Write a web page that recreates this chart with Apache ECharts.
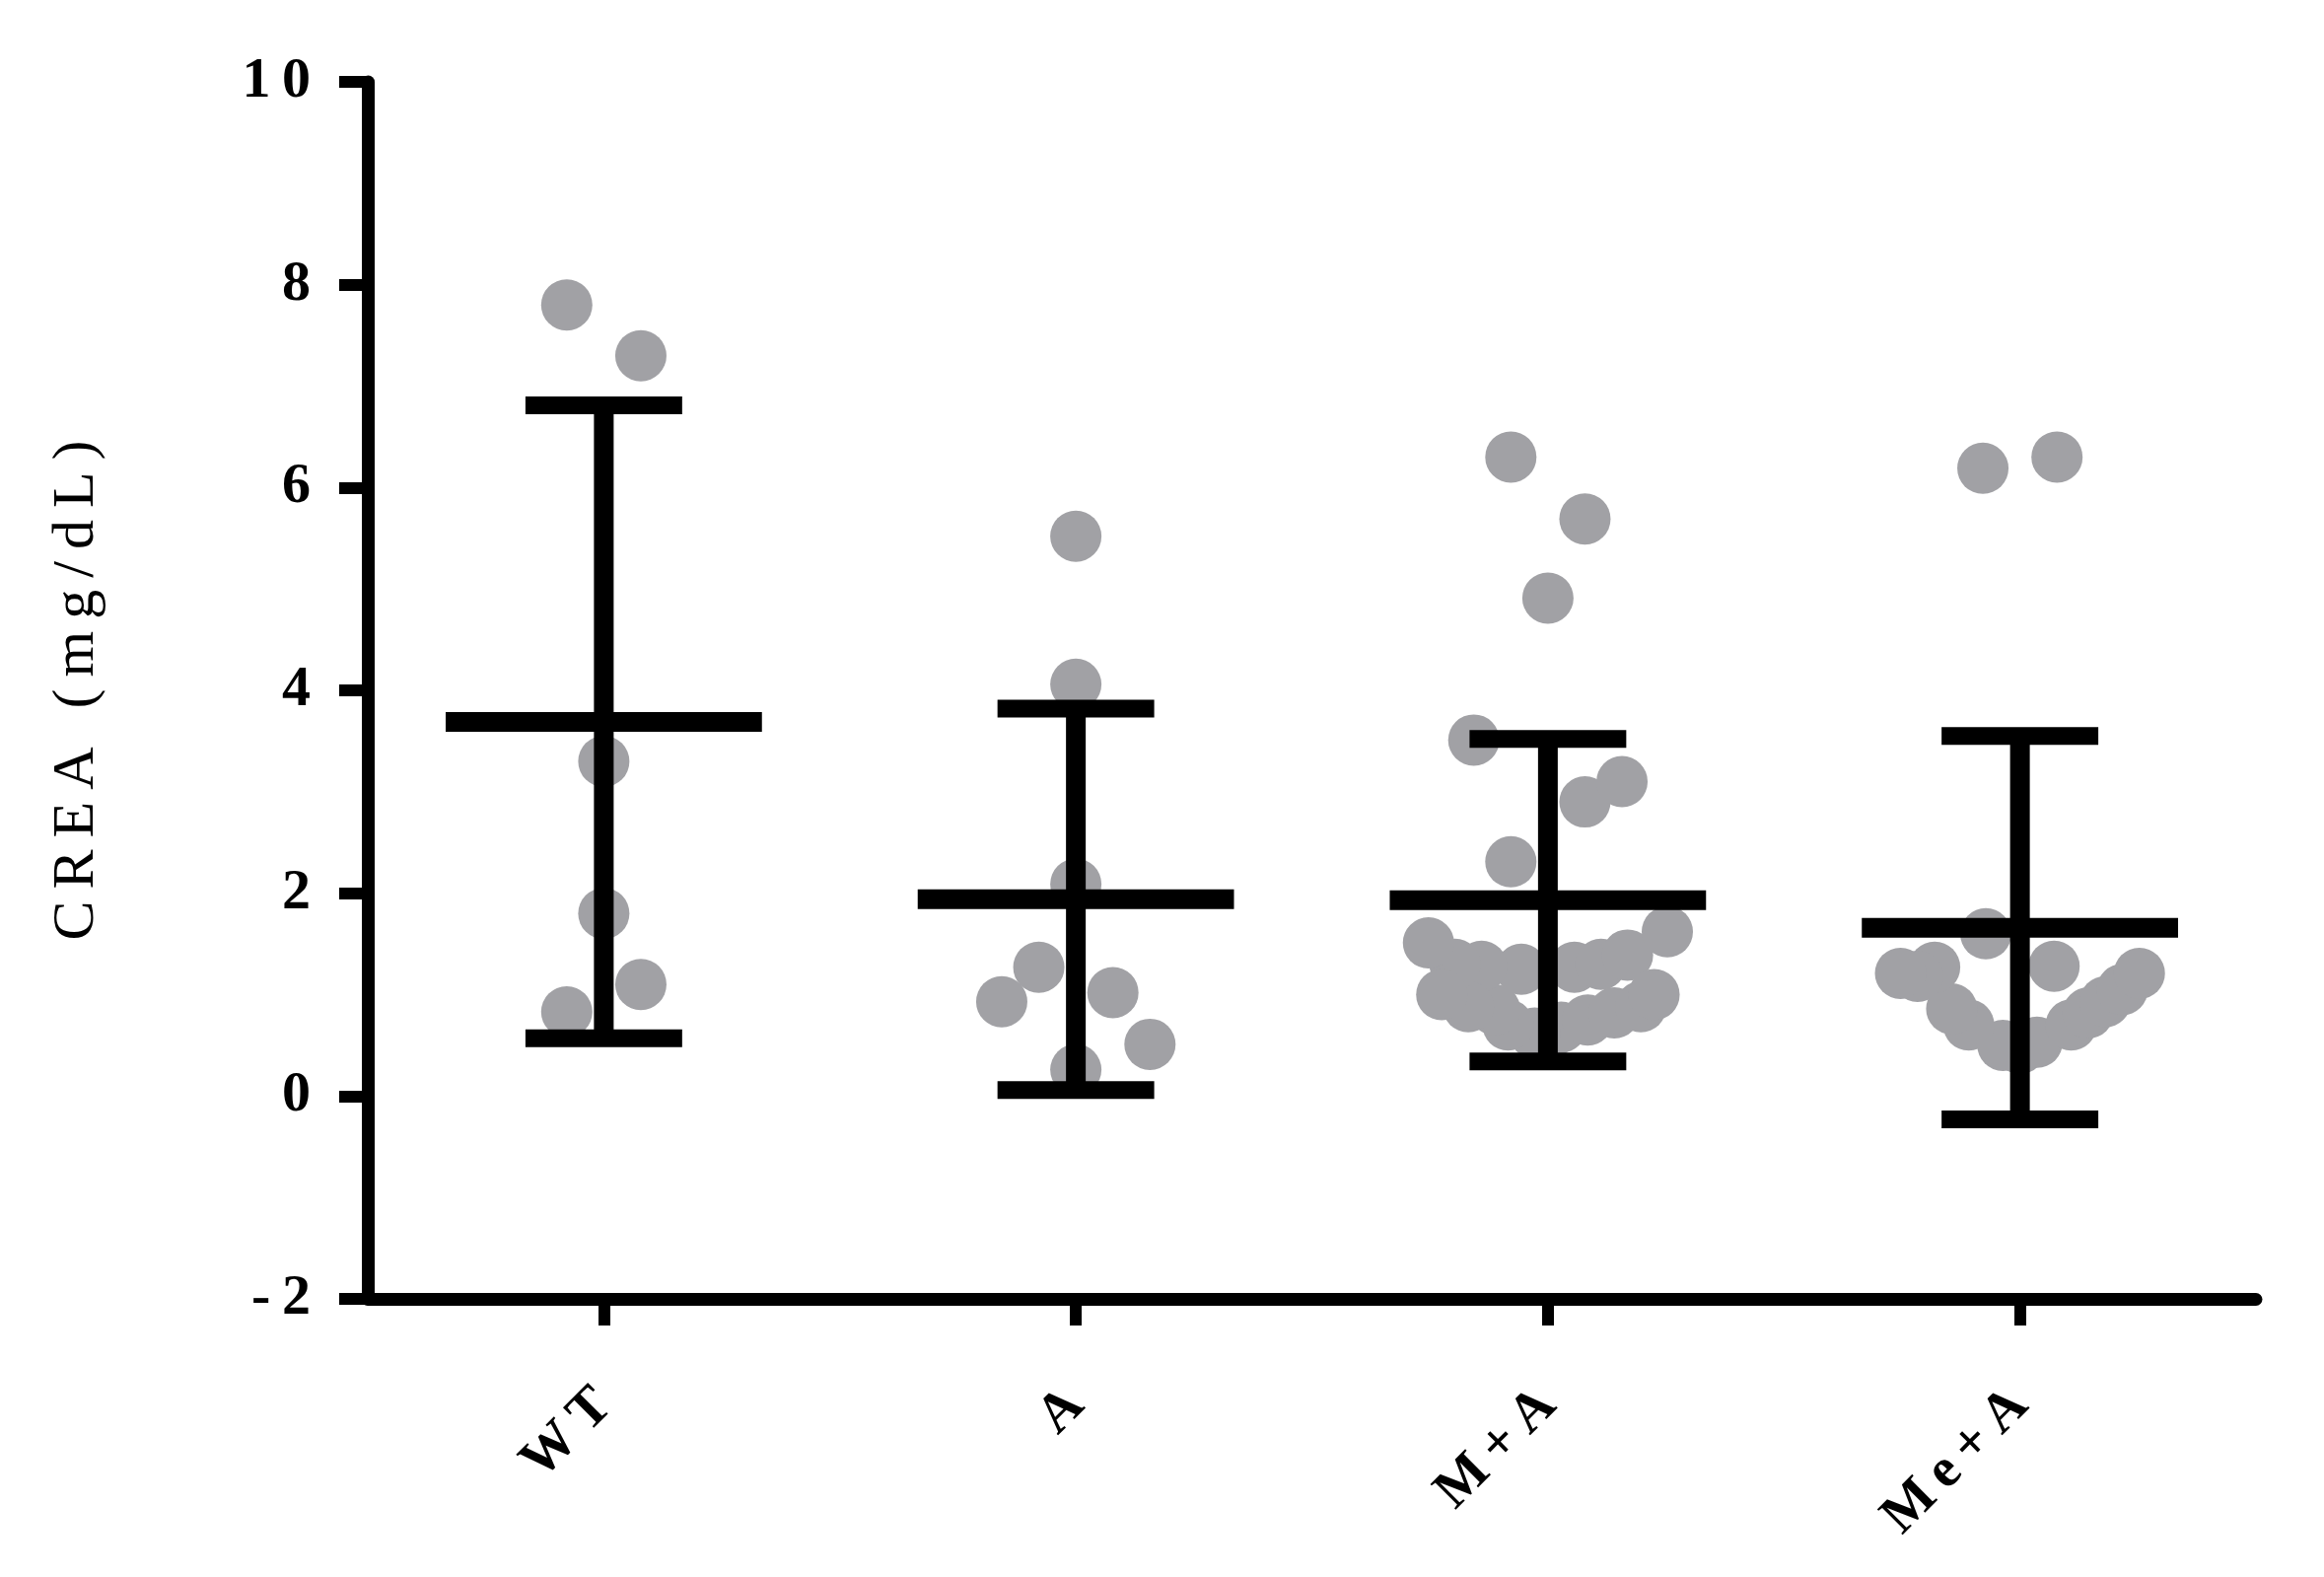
<!DOCTYPE html>
<html>
<head>
<meta charset="utf-8">
<title>CREA</title>
<script src="https://cdn.jsdelivr.net/npm/echarts@6/dist/echarts.min.js"></script>
<style>
  html, body { margin: 0; padding: 0; background: #fff; }
  #chart { width: 2357px; height: 1599px; }
</style>
</head>
<body>
<div id="chart"></div>
<script>
// 分组
var groups = ['WT', 'A', 'M+A', 'Me+A'];

// 各组数据点 (mg/dL)，组内顺序保留
var wtValues = [7.3, 7.8, 3.3, 1.8, 1.1, 0.83];
var aValues = [5.52, 4.06, 2.09, 0.26, 1.02, 1.27, 0.51, 0.93];
var maValues = [4.91, 5.69, 6.30, 2.90, 2.31, 3.10, 3.51,
    0.60, 0.68, 0.62, 1.27, 1.25, 0.75, 0.70, 1.30, 0.85, 0.82,
    1.28, 1.39, 0.88, 0.88, 1.30, 1.00, 1.00, 1.62, 1.51];
var meaValues = [6.30, 6.19,
    0.47, 0.53, 0.50, 1.28, 1.60, 0.70, 0.70, 0.82, 0.86, 0.93,
    1.27, 1.05, 1.18, 1.21, 1.21];

// 均值 / 标准差
var means = [3.69, 1.94, 1.93, 1.66];
var sds = [3.12, 1.88, 1.59, 1.89];

// y轴刻度
var yMin = -2, yMax = 10, yStep = 2;

var allValues = [wtValues, aValues, maValues, meaValues];

// 点的横向排布 (类似 GraphPad 的散点排布)
var ROW_SPAN = 1.42;   // 同一行的数值范围
var STEP = 0.0785;     // 点间距(类别宽度的比例)
var HALF_W = 0.253;    // 最大半宽

var spread = function (values, cat) {
    var order = values.map(function (v, i) { return i; })
        .sort(function (a, b) { return values[a] - values[b]; });
    var rowOf = [], start = null, row = -1;
    order.forEach(function (i) {
        if (start === null || values[i] - start > ROW_SPAN) {
            row++;
            start = values[i];
        }
        rowOf[i] = row;
    });
    var rows = [];
    values.forEach(function (v, i) {
        (rows[rowOf[i]] = rows[rowOf[i]] || []).push(v);
    });
    var pts = [];
    rows.forEach(function (r) {
        var n = r.length, odd = n % 2 === 1;
        var maxSlot = odd ? (n - 1) / 2 : n / 2;
        var sp = maxSlot ? Math.min(STEP, HALF_W / maxSlot) : 0;
        r.forEach(function (v, k) {
            var slot;
            if (odd) {
                slot = k === 0 ? 0 : Math.ceil(k / 2) * (k % 2 ? 1 : -1);
            } else {
                slot = (Math.floor(k / 2) + 1) * (k % 2 ? -1 : 1);
            }
            pts.push([cat + slot * sp, v]);
        });
    });
    return pts;
};

var dots = [];
allValues.forEach(function (vals, i) {
    dots = dots.concat(spread(vals, i));
});

var bars = means.map(function (m, i) { return [i, m, sds[i]]; });

var spaced = function (s) { return String(s).split('').join('\u2009'); };

var myChart = echarts.init(document.getElementById('chart'));
var option = {
    backgroundColor: '#fff',
    animation: false,
    grid: { left: 373, right: 69, top: 83, bottom: 282 },
    xAxis: [{
        type: 'category',
        data: groups,
        boundaryGap: true,
        axisLine: { show: true, onZero: false, lineStyle: { color: '#000', width: 13 } },
        axisTick: { show: true, alignWithLabel: true, length: 27, lineStyle: { color: '#000', width: 12 } },
        axisLabel: {
            rotate: 45,
            margin: 100,
            interval: 0,
            color: '#000',
            fontFamily: 'Liberation Serif',
            fontWeight: 'bold',
            fontSize: 56,
            formatter: function (v) { return spaced(v); }
        },
        splitLine: { show: false }
    }, {
        type: 'value',
        min: -0.5,
        max: 3.5,
        show: false,
        axisLine: { onZero: false }
    }],
    yAxis: {
        type: 'value',
        min: yMin,
        max: yMax,
        interval: yStep,
        name: 'CREA (mg/dL)'.split('').join('\u2009'),
        nameLocation: 'middle',
        nameGap: 265,
        nameRotate: 90,
        nameTextStyle: {
            color: '#000',
            fontFamily: 'Liberation Serif',
            fontSize: 60
        },
        axisLine: { show: true, onZero: false, lineStyle: { color: '#000', width: 13 } },
        axisTick: { show: true, length: 29, lineStyle: { color: '#000', width: 12 } },
        axisLabel: {
            margin: 58,
            color: '#000',
            fontFamily: 'Liberation Serif',
            fontWeight: 'bold',
            fontSize: 58,
            formatter: function (v) { return spaced(v); }
        },
        splitLine: { show: false }
    },
    series: [{
        type: 'scatter',
        xAxisIndex: 1,
        symbol: 'circle',
        symbolSize: 52,
        itemStyle: { color: '#a1a1a5', opacity: 1 },
        data: dots,
        z: 2
    }, {
        type: 'custom',
        xAxisIndex: 0,
        z: 5,
        data: bars,
        renderItem: function (params, api) {
            var c = api.value(0), m = api.value(1), sd = api.value(2);
            var mid = api.coord([c, m]);
            var top = api.coord([c, m + sd]);
            var bot = api.coord([c, m - sd]);
            var bw = api.size([1, 0])[0];
            var st = { stroke: '#000', lineWidth: 20 };
            return {
                type: 'group',
                children: [
                    { type: 'line', shape: { x1: mid[0], y1: top[1], x2: mid[0], y2: bot[1] }, style: st },
                    { type: 'line', shape: { x1: mid[0] - 0.335 * bw, y1: mid[1], x2: mid[0] + 0.335 * bw, y2: mid[1] }, style: st },
                    { type: 'line', shape: { x1: mid[0] - 0.166 * bw, y1: top[1], x2: mid[0] + 0.166 * bw, y2: top[1] }, style: { stroke: '#000', lineWidth: 18 } },
                    { type: 'line', shape: { x1: mid[0] - 0.166 * bw, y1: bot[1], x2: mid[0] + 0.166 * bw, y2: bot[1] }, style: { stroke: '#000', lineWidth: 18 } }
                ]
            };
        }
    }]
};
myChart.setOption(option);
</script>
</body>
</html>
